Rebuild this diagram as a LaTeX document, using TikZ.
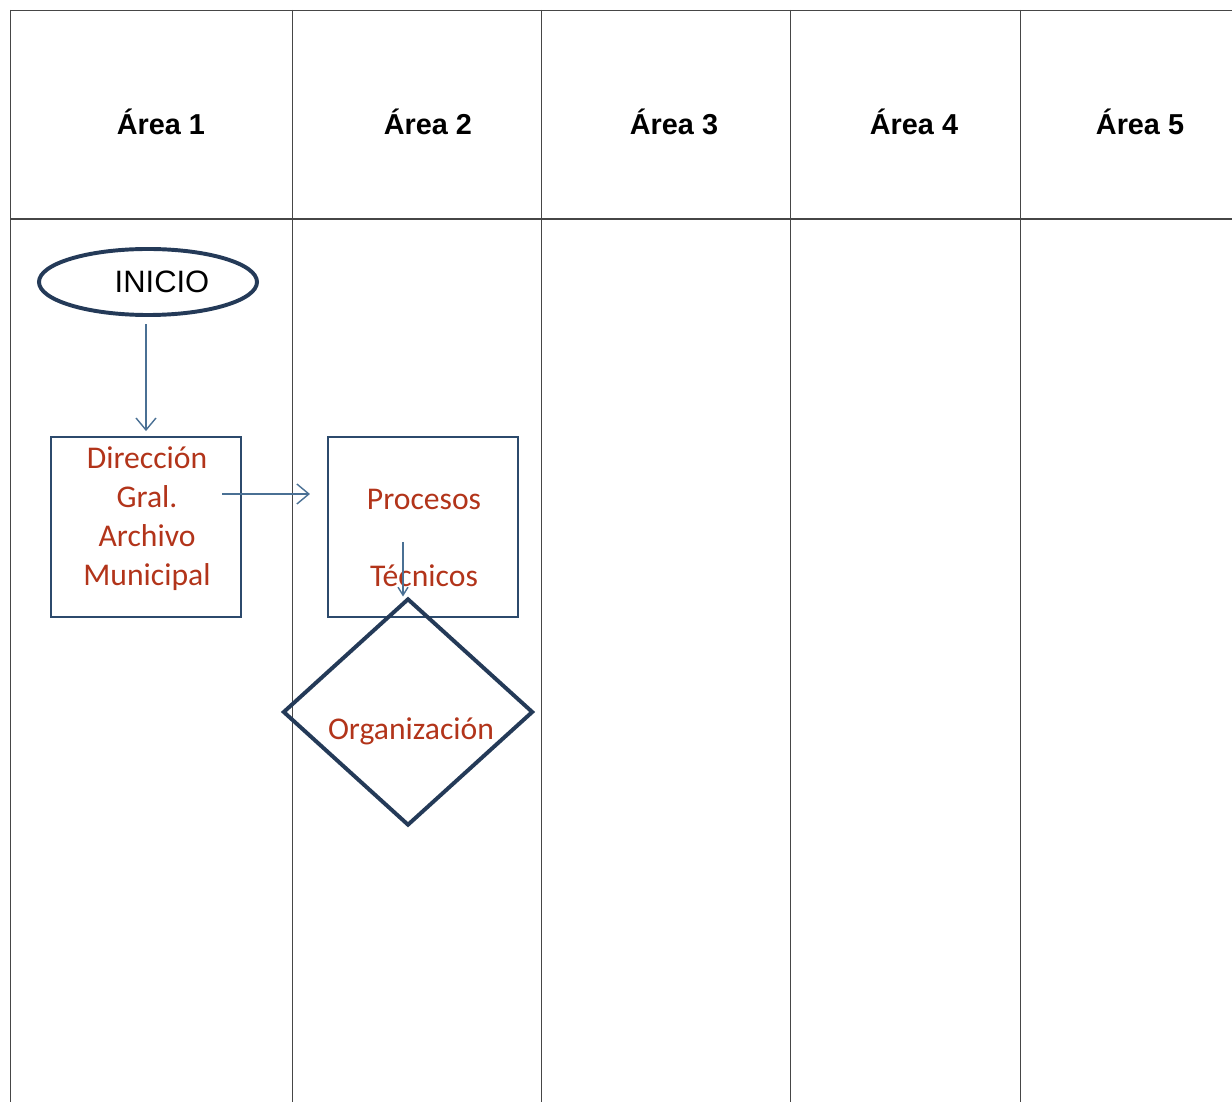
\documentclass[tikz,border=0pt]{standalone}
\usepackage{fontspec}
\setmainfont{Liberation Sans}
\newfontfamily\carlito{Carlito}
\usetikzlibrary{shapes.geometric}
\usetikzlibrary{arrows.meta}
\definecolor{laneline}{RGB}{70,70,70}
\definecolor{darkedge}{RGB}{36,58,88}
\definecolor{boxedge}{RGB}{44,74,108}
\definecolor{flowblue}{RGB}{74,112,148}
\definecolor{redtext}{RGB}{178,52,26}
\tikzstyle{lane}=[draw=laneline, line width=0.7pt]
\tikzstyle{header}=[font=\bfseries\fontsize{20.5}{24}\selectfont]
\tikzstyle{terminal}=[ellipse, draw=darkedge, line width=2.8pt, inner sep=0pt,
  minimum width=5.45cm, minimum height=1.65cm]
\tikzstyle{process}=[rectangle, draw=boxedge, line width=1.4pt, inner sep=0pt,
  minimum width=4.75cm, minimum height=4.5cm]
\tikzstyle{decision}=[diamond, draw=darkedge, line width=2.8pt, inner sep=0pt,
  minimum width=6.25cm, minimum height=5.675cm]
\tikzstyle{label}=[text=redtext, align=center,
  font=\carlito\fontsize{22.5}{27.7}\selectfont]
\tikzstyle{flow}=[draw=flowblue, line width=1pt,
  -{Straight Barb[length=3mm,width=5mm,line width=1pt]}]

\begin{document}
\begin{tikzpicture}[x=0.025cm, y=-0.025cm]
  \useasboundingbox (0,0) rectangle (1232,1102);
  % lanes
  \draw[lane] (10,10) -- (1232,10);
  \draw[lane, line width=1.2pt] (10,219) -- (1232,219);
  \foreach \x in {10,292,541,790,1020}
    \draw[lane] (\x,10) -- (\x,1102);
  \foreach \x/\n in {161/1,428/2,674/3,914/4,1140/5}
    \node[header] (area\n) at (\x,122) {Área \n};
  % shapes
  \node[terminal] (inicio) at (148,282) {};
  \node[font=\fontsize{22}{26}\selectfont] (iniciotext) at (162,282) {INICIO};
  \node[process] (direccion) at (146,527) {};
  \node[label] (direcciontext) at (147,518.5) {Dirección\\Gral.\\Archivo\\Municipal};
  \node[process] (procesos) at (423,527) {};
  \node[label] (procesostext) at (424,538) {Procesos\\[27.7pt]Técnicos};
  \node[decision] (organizacion) at (408,712) {};
  \node[label] (organizaciontext) at (411,731) {Organización};
  % connectors
  \draw[flow] ([yshift=-5pt]inicio.south -| direccion.north) -- ([yshift=3.5pt]direccion.north);
  \draw[flow] ([shift={(-20,-33)}]direccion.east) -- ([shift={(-17,-33)}]procesos.west);
  \coordinate (tecnicos) at (403,542);
  \draw[flow, -{Straight Barb[length=2mm,width=2.5mm,line width=1pt]}]
    (tecnicos) -- (tecnicos |- organizacion.north);
\end{tikzpicture}
\end{document}
